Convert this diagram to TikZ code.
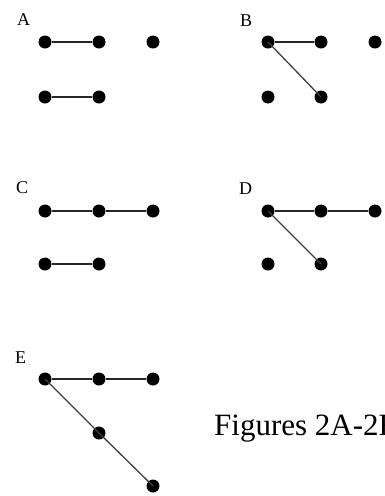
\documentclass[tikz,border=0pt]{standalone}
\usepackage{fontspec}
\setmainfont{Liberation Serif}
\begin{document}
\begin{tikzpicture}[x=1pt,y=-1pt,
  dot/.style={circle,fill=black,inner sep=0pt,minimum size=13pt},
  hline/.style={line width=1.8pt,black!85},
  dline/.style={line width=1.3pt,black!75},
  lab/.style={anchor=base west,inner sep=0pt,font=\fontsize{18}{18}\selectfont},
  captext/.style={anchor=base west,inner sep=0pt,font=\fontsize{31}{31}\selectfont}]
\clip (0,0) rectangle (384,496);
\fill[white] (0,0) rectangle (384,496);
% A
\node[lab] (la) at (17,25.5) {A};
\node[dot] (a1) at (45,42) {};
\node[dot] (a2) at (99,42) {};
\node[dot] (a3) at (153,42) {};
\node[dot] (a4) at (45,97) {};
\node[dot] (a5) at (99,97) {};
\draw[hline] (a1) -- (a2);
\draw[hline] (a4) -- (a5);
% B
\node[lab] (lb) at (240,26) {B};
\node[dot] (b1) at (268,42) {};
\node[dot] (b2) at (321,42) {};
\node[dot] (b3) at (375,42) {};
\node[dot] (b4) at (268,97) {};
\node[dot] (b5) at (321,97) {};
\draw[hline] (b1) -- (b2);
\draw[dline] (b1.center) -- (b5.center);
% C
\node[lab] (lc) at (16,193) {C};
\node[dot] (c1) at (45,211) {};
\node[dot] (c2) at (99,211) {};
\node[dot] (c3) at (153,211) {};
\node[dot] (c4) at (45,264) {};
\node[dot] (c5) at (99,264) {};
\draw[hline] (c1) -- (c2) -- (c3);
\draw[hline] (c4) -- (c5);
% D
\node[lab] (ld) at (239,194) {D};
\node[dot] (d1) at (268,211) {};
\node[dot] (d2) at (321,211) {};
\node[dot] (d3) at (375,211) {};
\node[dot] (d4) at (268,264) {};
\node[dot] (d5) at (321,264) {};
\draw[hline] (d1) -- (d2) -- (d3);
\draw[dline] (d1.center) -- (d5.center);
% E
\node[lab] (le) at (15,363) {E};
\node[dot] (e1) at (45,379) {};
\node[dot] (e2) at (99,379) {};
\node[dot] (e3) at (153,379) {};
\node[dot] (e4) at (99,433) {};
\node[dot] (e5) at (153,486) {};
\draw[hline] (e1) -- (e2) -- (e3);
\draw[dline] (e1.center) -- (e4.center) -- (e5.center);
% caption
\node[captext] (caption) at (214,435) {Figures 2A-2F};
\end{tikzpicture}
\end{document}
